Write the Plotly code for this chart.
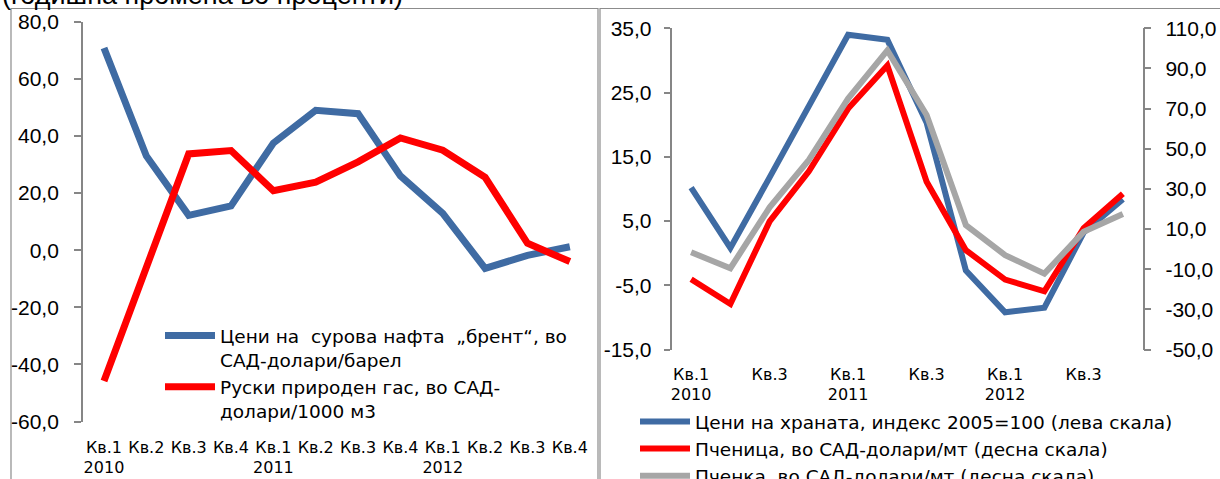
import plotly.graph_objects as go

W, H = 1220, 479

# ---------------- data ----------------
quarters = ["Кв.1", "Кв.2", "Кв.3", "Кв.4"] * 3
years = ["2010", "2011", "2012"]

brent = [70.8, 33.0, 12.2, 15.5, 37.5, 49.0, 47.8, 26.0, 12.9, -6.4, -1.8, 1.2]
gas = [-45.8, -5.5, 33.7, 34.9, 20.8, 23.8, 30.9, 39.3, 35.0, 25.5, 2.4, -4.0]

food = [10.2, 0.8, 11.8, 22.8, 34.0, 33.2, 20.3, -2.7, -9.2, -8.5, 3.2, 8.4]
wheat = [-15.0, -27.3, 13.8, 38.8, 70.0, 91.5, 33.6, -0.5, -15.2, -21.0, 10.4, 27.6]
maize = [-1.6, -9.5, 20.8, 44.4, 75.0, 99.0, 66.8, 12.0, -3.0, -12.2, 8.6, 17.5]

NB = "\u00a0"
name_brent = "Цени на" + NB + " сурова нафта" + NB + " „брент“, во<br>САД-долари/барел"
name_gas = "Руски природен гас, во САД-<br>долари/1000 м3"
name_food = "Цени на храната, индекс 2005=100 (лева скала)"
name_wheat = "Пченица, во САД-долари/мт (десна скала)"
name_maize = "Пченка, во САД-долари/мт (десна скала)"
title_text = "(годишна промена во проценти)"

left_ticks = [-60, -40, -20, 0, 20, 40, 60, 80]
left_ticktext = ["-60,0", "-40,0", "-20,0", "0,0", "20,0", "40,0", "60,0", "80,0"]
r1_ticks = [-15, -5, 5, 15, 25, 35]
r1_ticktext = ["-15,0", "-5,0", "5,0", "15,0", "25,0", "35,0"]
r2_ticks = [-50, -30, -10, 10, 30, 50, 70, 90, 110]
r2_ticktext = ["-50,0", "-30,0", "-10,0", "10,0", "30,0", "50,0", "70,0", "90,0", "110,0"]

# --------------- styling --------------
BLUE = "#3F6BA3"
RED = "#FF0000"
GRAY = "#A6A6A6"
AX = "#868686"
FONT = "Liberation Sans"
FONT2 = "DejaVu Sans"

n = len(quarters)
xs = list(range(n))
left_labels = [q + ("<br>" + years[i // 4] if i % 4 == 0 else "") for i, q in enumerate(quarters)]
right_vals = [i for i in xs if i % 2 == 0]
right_labels = [quarters[i] + ("<br>" + years[i // 4] if i % 4 == 0 else "") for i in right_vals]
bounds = [i - 0.5 for i in range(n + 1)]


def px_x(p):
    return p / W


def px_y(p):
    return 1 - p / H


# domains (pixel based)
L_x = [px_x(82.8), px_x(591)]
L_y = [px_y(421.5), px_y(21.7)]
R_x = [px_x(671.5), px_x(1142.5)]
R_y = [px_y(349.5), px_y(28.3)]

L_rng = [-60, 80]
R1_rng = [-15, 35]
R2_rng = [-50, 110]

fig = go.Figure()

fig.add_trace(go.Scatter(x=xs, y=brent, name=name_brent, mode="lines",
                         line=dict(color=BLUE, width=7), xaxis="x", yaxis="y", legend="legend"))
fig.add_trace(go.Scatter(x=xs, y=gas, name=name_gas, mode="lines",
                         line=dict(color=RED, width=7), xaxis="x", yaxis="y", legend="legend"))

fig.add_trace(go.Scatter(x=xs, y=food, name=name_food, mode="lines",
                         line=dict(color=BLUE, width=6), xaxis="x2", yaxis="y2", legend="legend2"))
fig.add_trace(go.Scatter(x=xs, y=wheat, name=name_wheat, mode="lines",
                         line=dict(color=RED, width=6), xaxis="x2", yaxis="y3", legend="legend2"))
fig.add_trace(go.Scatter(x=xs, y=maize, name=name_maize, mode="lines",
                         line=dict(color=GRAY, width=6), xaxis="x2", yaxis="y3", legend="legend2"))

tickfont_y = dict(family=FONT, size=21, color="black")
tickfont_x = dict(family=FONT2, size=16, color="black")
legfont = dict(family=FONT2, size=18.5, color="black")


def zero_pos(dom, rng):
    return dom[0] + (0 - rng[0]) / (rng[1] - rng[0]) * (dom[1] - dom[0])


fig.update_layout(
    width=W, height=H, autosize=False,
    margin=dict(l=0, r=0, t=0, b=0, autoexpand=False),
    paper_bgcolor="white", plot_bgcolor="rgba(0,0,0,0)",
    font=dict(family=FONT, size=21, color="black"),
    showlegend=True,
    # left panel
    xaxis=dict(domain=L_x, range=[-0.5, n - 0.5], anchor="y",
               tickmode="array", tickvals=xs, ticktext=left_labels,
               ticks="", showline=False, showgrid=False, zeroline=False,
               tickfont=tickfont_x, ticklabelstandoff=14),
    xaxis3=dict(domain=L_x, range=[-0.5, n - 0.5], overlaying="x", anchor="free",
                position=zero_pos(L_y, L_rng), side="bottom",
                tickmode="array", tickvals=bounds, ticks="outside", ticklen=6,
                tickcolor=AX, tickwidth=1.5, showticklabels=False,
                showline=True, linecolor=AX, linewidth=1.5, showgrid=False, zeroline=False),
    yaxis=dict(domain=L_y, range=L_rng, anchor="x",
               tickmode="array", tickvals=left_ticks, ticktext=left_ticktext,
               ticks="outside", ticklen=7, tickcolor=AX, tickwidth=1.5,
               showline=True, linecolor=AX, linewidth=1.5, showgrid=False, zeroline=False,
               tickfont=tickfont_y, ticklabelstandoff=11),
    # right panel
    xaxis2=dict(domain=R_x, range=[-0.5, n - 0.5], anchor="y2",
                tickmode="array", tickvals=right_vals, ticktext=right_labels,
                ticks="", showline=False, showgrid=False, zeroline=False,
                tickfont=tickfont_x, ticklabelstandoff=13),
    xaxis4=dict(domain=R_x, range=[-0.5, n - 0.5], overlaying="x2", anchor="free",
                position=zero_pos(R_y, R1_rng), side="bottom",
                tickmode="array", tickvals=bounds, ticks="outside", ticklen=6,
                tickcolor=AX, tickwidth=1.5, showticklabels=False,
                showline=True, linecolor=AX, linewidth=1.5, showgrid=False, zeroline=False),
    yaxis2=dict(domain=R_y, range=R1_rng, anchor="x2",
                tickmode="array", tickvals=r1_ticks, ticktext=r1_ticktext,
                ticks="outside", ticklen=6, tickcolor=AX, tickwidth=1.5,
                showline=True, linecolor=AX, linewidth=1.5, showgrid=False, zeroline=False,
                tickfont=tickfont_y, ticklabelstandoff=8),
    yaxis3=dict(domain=R_y, range=R2_rng, anchor="x2", overlaying="y2", side="right",
                tickmode="array", tickvals=r2_ticks, ticktext=r2_ticktext,
                ticks="outside", ticklen=7, tickcolor=AX, tickwidth=1.5,
                showline=True, linecolor=AX, linewidth=1.5, showgrid=False, zeroline=False,
                tickfont=tickfont_y, ticklabelstandoff=10),
    legend=dict(x=px_x(160), y=px_y(317), xanchor="left", yanchor="top",
                bgcolor="rgba(0,0,0,0)", borderwidth=0, valign="top",
                font=legfont, itemwidth=50, tracegroupgap=0, traceorder="normal"),
    legend2=dict(x=px_x(635), y=px_y(403), xanchor="left", yanchor="top",
                 bgcolor="rgba(0,0,0,0)", borderwidth=0, valign="top",
                 font=legfont, itemwidth=50, tracegroupgap=0, traceorder="normal"),
)

# panel frames
frame = dict(color="#8C8C8C", width=1.2)
fig.add_shape(type="rect", xref="paper", yref="paper",
              x0=px_x(11), x1=px_x(598), y0=px_y(482), y1=px_y(8.5),
              line=frame, fillcolor="rgba(0,0,0,0)", layer="below")
fig.add_shape(type="rect", xref="paper", yref="paper",
              x0=px_x(600), x1=px_x(1225), y0=px_y(482), y1=px_y(8.5),
              line=frame, fillcolor="rgba(0,0,0,0)", layer="below")

fig.add_annotation(text=title_text, xref="paper", yref="paper",
                   x=0, y=px_y(12), xanchor="left", yanchor="bottom", showarrow=False,
                   font=dict(family=FONT, size=27, color="black"))

fig.write_html("out.html")
